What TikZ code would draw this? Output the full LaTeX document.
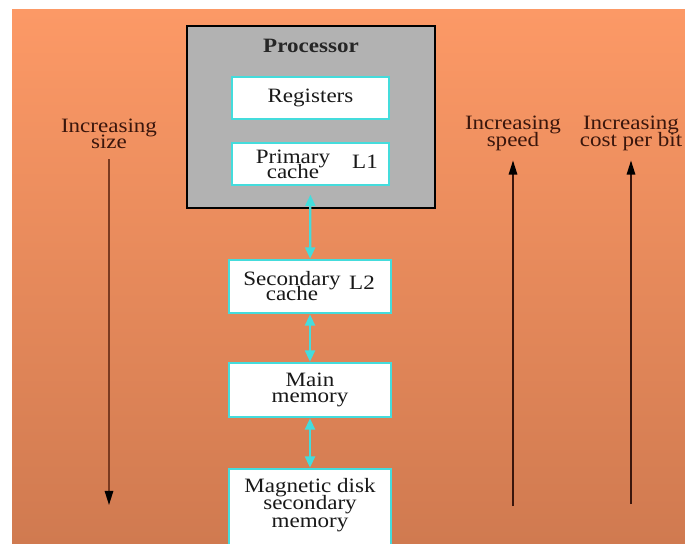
\documentclass[tikz,border=0pt]{standalone}
\usepackage{fontspec}
\setmainfont{Liberation Serif}[FakeStretch=1.13]
\usetikzlibrary{arrows.meta}

\definecolor{bgtop}{HTML}{FC9966}
\definecolor{bgbot}{HTML}{D07A50}
\definecolor{procgray}{HTML}{B2B2B2}
\definecolor{memcyan}{HTML}{44DCDC}
\definecolor{inkbrown}{HTML}{3A160C}
\definecolor{sizebrown}{HTML}{7A3A20}

\newcommand{\tightlines}[1]{\fontsize{14.5}{#1}\selectfont\lineskiplimit=-100pt}

\tikzset{
  membox/.style={draw=memcyan, line width=1.8pt, fill=white, inner sep=0pt},
  memtext/.style={font=\tightlines{10.5}, align=center, text=black!90, inner sep=1pt},
  sidetext/.style={font=\tightlines{12}, align=center, text=inkbrown, inner sep=1pt},
  busarrow/.style={memcyan, line width=1.6pt, {Triangle[length=8pt,width=7pt]}-{Triangle[length=8pt,width=7pt]}},
  trendarrow/.style={inkbrown, line width=1.1pt, -{Triangle[length=10pt,width=6pt,color=black]}}
}

\begin{document}
\begin{tikzpicture}[x=0.025cm,y=-0.025cm]
    \useasboundingbox (0,0) rectangle (685,544);
    \clip (0,0) rectangle (685,544);
    \shade[top color=bgtop, bottom color=bgbot] (12,10) rectangle (685,544);

    \node[draw=black, line width=1.5pt, fill=procgray, minimum width=6.2cm, minimum height=4.55cm] at (311,117) (proc) {};
    \node[font=\fontsize{14.5}{18}\selectfont\bfseries, text=black!85] at (311,46) (proctitle) {Processor};

    \node[membox, memtext, minimum width=3.925cm, minimum height=1.05cm] at (310.5,98) (regs) {Registers};
    \node[membox, minimum width=3.925cm, minimum height=1.05cm] at (310.5,164) (l1) {};
    \node[memtext] at (293,164) (l1txt) {Primary\\cache};
    \node[memtext] at (365,162) (l1tag) {L1};

    \node[membox, minimum width=4.05cm, minimum height=1.325cm] at (310,286.5) (l2) {};
    \node[memtext] at (292,286) (l2txt) {Secondary\\cache};
    \node[memtext] at (362,283) (l2tag) {L2};

    \node[membox, memtext, font=\tightlines{11.5}, minimum width=4.05cm, minimum height=1.35cm] at (310,390) (mainmem) {Main\\memory};

    \node[membox, minimum width=4.05cm, minimum height=2.05cm] at (310,510) (disk) {};
    \node[memtext, font=\tightlines{12.5}] at (310,505) (disktxt) {Magnetic disk\\secondary\\memory};

    \draw[busarrow, shorten <=6pt] (l1) -- (l2);
    \draw[busarrow] (l2) -- (mainmem);
    \draw[busarrow] (mainmem) -- (disk);

    \node[sidetext, font=\tightlines{11.5}] at (109,134) (sizelbl) {Increasing\\size};
    \node[sidetext] at (513,133) (speedlbl) {Increasing\\speed};
    \node[sidetext] at (631,133) (costlbl) {Increasing\\cost per bit};
    \coordinate (sizeend) at (109,505);
    \coordinate (speedbase) at (513,506);
    \coordinate (costbase) at (631,504);

    \draw[trendarrow, sizebrown, shorten <=6pt] (sizelbl) -- (sizeend);
    \draw[trendarrow, shorten >=6pt] (speedbase) -- (speedlbl);
    \draw[trendarrow, shorten >=6pt] (costbase) -- (costlbl);
  \end{tikzpicture}
\end{document}
